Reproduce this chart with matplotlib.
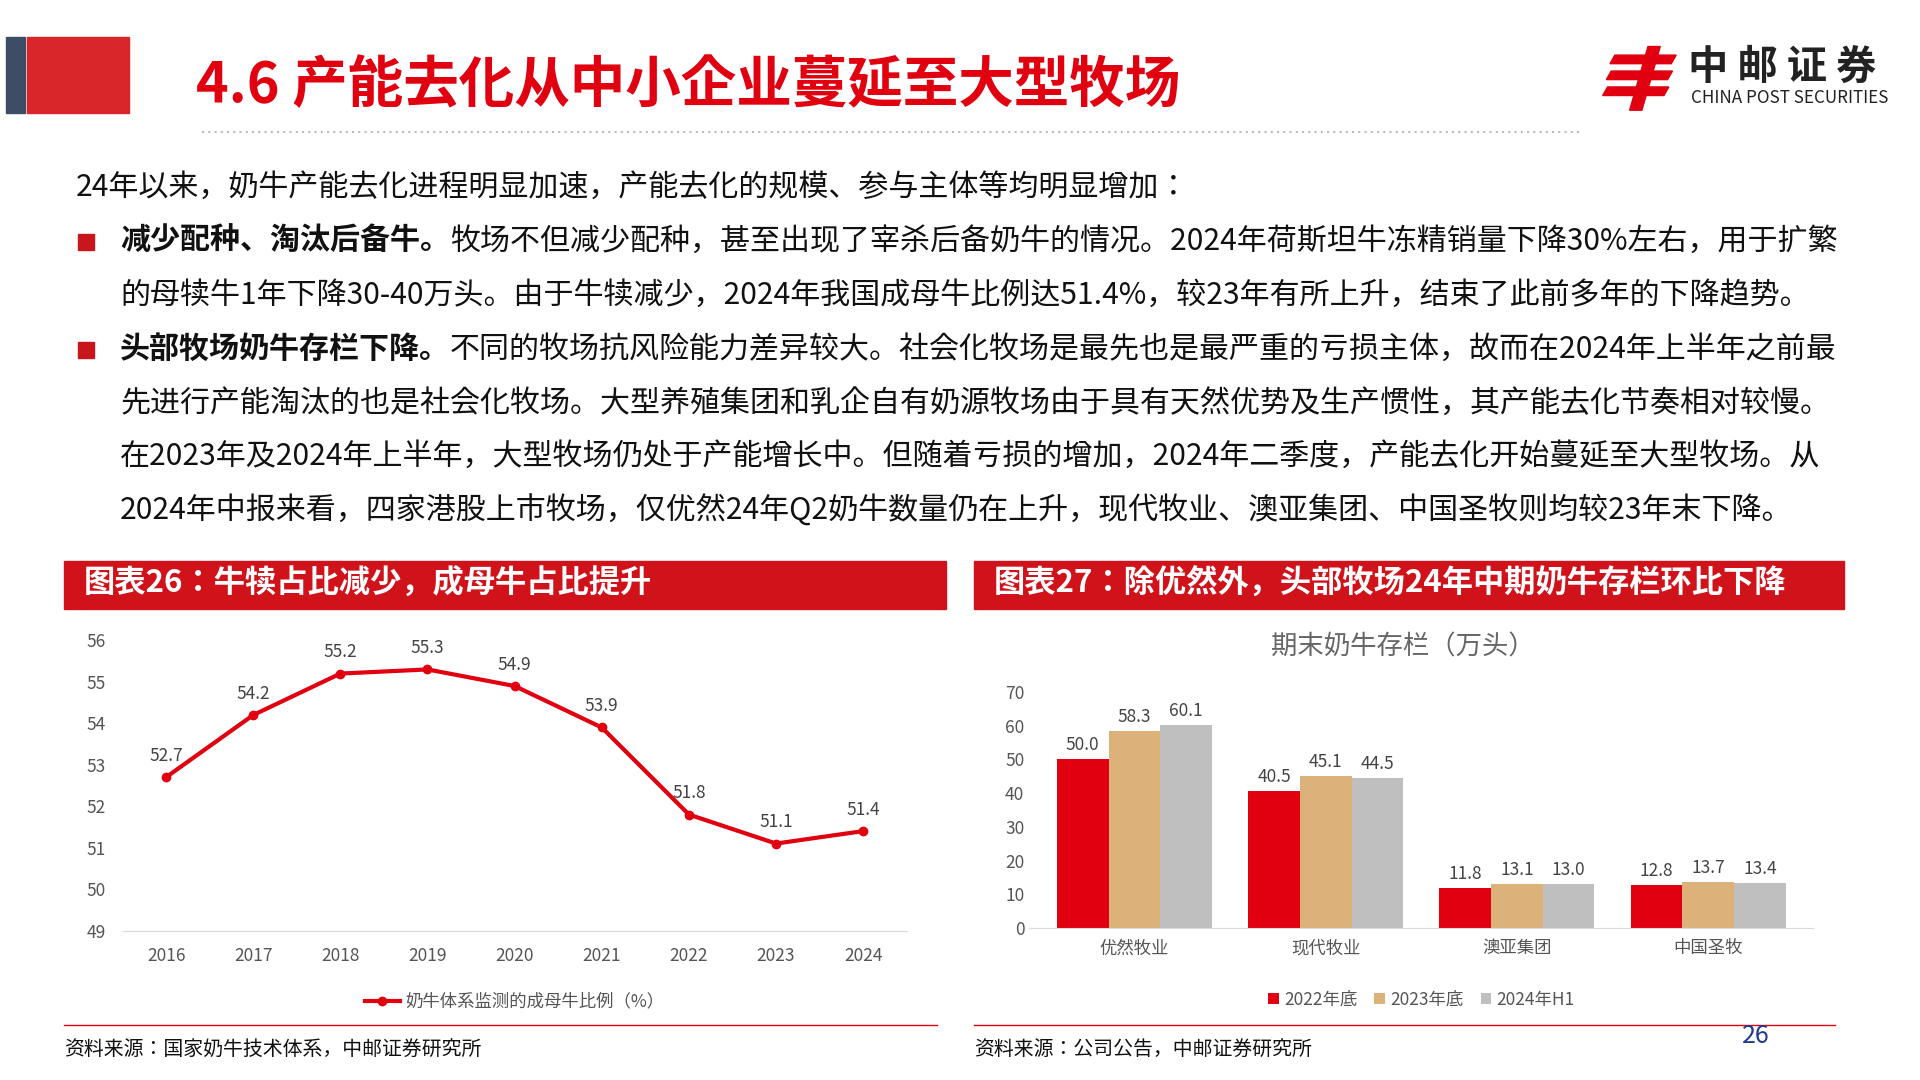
import matplotlib
matplotlib.use("Agg")
import matplotlib.pyplot as plt
from matplotlib.patches import Rectangle, Polygon
from matplotlib.lines import Line2D
from matplotlib import font_manager as fm

names = {f.name for f in fm.fontManager.ttflist}
cjk = [n for n in ['Noto Sans CJK SC','Noto Sans CJK JP','Noto Sans CJK TC','Noto Sans CJK KR'] if n in names]
plt.rcParams['font.family'] = cjk + ['DejaVu Sans']

years = ['2016','2017','2018','2019','2020','2021','2022','2023','2024']
ratio = [52.7,54.2,55.2,55.3,54.9,53.9,51.8,51.1,51.4]
companies = ['优然牧业','现代牧业','澳亚集团','中国圣牧']
s2022 = [50.0,40.5,11.8,12.8]
s2023 = [58.3,45.1,13.1,13.7]
s2024 = [60.1,44.5,13.0,13.4]
series_names = ['2022年底','2023年底','2024年H1']

W, H = 1567, 882
fig = plt.figure(figsize=(19.2,10.8), dpi=100)
def fx(x): return x/W
def fy(y): return 1-y/H
RED = '#E0000F'

fig.patches.append(Rectangle((fx(5),fy(92)),fx(15),(62)/H,color='#3C4E66',transform=fig.transFigure))
fig.patches.append(Rectangle((fx(22),fy(92)),fx(83),(62)/H,color='#D9262B',transform=fig.transFigure))
fig.text(fx(160),fy(70),'4.6 产能去化从中小企业蔓延至大型牧场',color=RED,fontsize=40,fontweight='bold',va='center')
fig.add_artist(Line2D([fx(165),fx(1290)],[fy(108),fy(108)],color='#BBBBBB',lw=1.5,ls=(0,(1,2)),transform=fig.transFigure))
for i,(yy) in enumerate([45,58,71]):
    fig.patches.append(Polygon([(fx(1318+i*-3),fy(yy)),(fx(1368-i*3),fy(yy)),(fx(1364-i*3),fy(yy+7)),(fx(1314-i*3),fy(yy+7))],closed=True,color=RED,transform=fig.transFigure))
fig.patches.append(Polygon([(fx(1345),fy(38)),(fx(1355),fy(38)),(fx(1340),fy(90)),(fx(1330),fy(90))],closed=True,color=RED,transform=fig.transFigure))
fig.text(fx(1378),fy(55),'中 邮 证 券',fontsize=29,fontweight='bold',va='center',color='#222222')
fig.text(fx(1380),fy(80),'CHINA POST SECURITIES',fontsize=12.3,va='center',color='#222222')

fig.canvas.draw()
r = fig.canvas.get_renderer()
FS = 21.6
def line(x,y,parts):
    cx = fx(x)
    for txt,b in parts:
        t = fig.text(cx,fy(y),txt,fontsize=FS,fontweight='bold' if b else 'normal',va='center',color='#111111')
        bb = t.get_window_extent(r)
        cx += bb.width/fig.bbox.width

line(62,153,[('24年以来，奶牛产能去化进程明显加速，产能去化的规模、参与主体等均明显增加：',False)])
for yy in (197,285):
    fig.patches.append(Rectangle((fx(64),fy(yy+7)),fx(13),13/H,color='#C8161D',transform=fig.transFigure))
line(98,197,[('减少配种、淘汰后备牛。',True),('牧场不但减少配种，甚至出现了宰杀后备奶牛的情况。2024年荷斯坦牛冻精销量下降30%左右，用于扩繁',False)])
line(98,241,[('的母犊牛1年下降30-40万头。由于牛犊减少，2024年我国成母牛比例达51.4%，较23年有所上升，结束了此前多年的下降趋势。',False)])
line(98,285,[('头部牧场奶牛存栏下降。',True),('不同的牧场抗风险能力差异较大。社会化牧场是最先也是最严重的亏损主体，故而在2024年上半年之前最',False)])
line(98,329,[('先进行产能淘汰的也是社会化牧场。大型养殖集团和乳企自有奶源牧场由于具有天然优势及生产惯性，其产能去化节奏相对较慢。',False)])
line(98,373,[('在2023年及2024年上半年，大型牧场仍处于产能增长中。但随着亏损的增加，2024年二季度，产能去化开始蔓延至大型牧场。从',False)])
line(98,417,[('2024年中报来看，四家港股上市牧场，仅优然24年Q2奶牛数量仍在上升，现代牧业、澳亚集团、中国圣牧则均较23年末下降。',False)])

for x0,x1,txt in [(52,772,'图表26：牛犊占比减少，成母牛占比提升'),(795,1505,'图表27：除优然外，头部牧场24年中期奶牛存栏环比下降')]:
    fig.patches.append(Rectangle((fx(x0),fy(497)),fx(x1-x0),39/H,color='#D0121B',transform=fig.transFigure))
    fig.text(fx(x0+16),fy(477),txt,color='white',fontsize=22.5,fontweight='bold',va='center')

LS = 12.5
ax = fig.add_axes([fx(100),fy(760),fx(640),(760-523)/H])
xs = range(len(years))
ax.plot(xs,ratio,color=RED,lw=3,marker='o',ms=6)
for i,v in enumerate(ratio):
    ax.text(i,v+0.3,f'{v}',ha='center',va='bottom',fontsize=LS,color='#444444')
ax.set_ylim(49,56); ax.set_xlim(-0.5,8.5)
ax.set_xticks(list(xs)); ax.set_xticklabels(years)
ax.set_yticks(range(49,57))
ax.tick_params(length=0,labelsize=LS,colors='#555555')
ax.tick_params(axis='y',pad=12)
ax.tick_params(axis='x',pad=12)
for s in ax.spines.values(): s.set_visible(False)
ax.spines['bottom'].set_visible(True); ax.spines['bottom'].set_color('#D9D9D9')
ax.legend(['奶牛体系监测的成母牛比例（%）'],loc='upper center',bbox_to_anchor=(0.5,-0.16),frameon=False,fontsize=LS,labelcolor='#555555',handlelength=2.0,handletextpad=0.3)

ax2 = fig.add_axes([fx(840),fy(758),fx(640),(758-565)/H])
cols = ['#E0000F','#DDB27A','#BFBFBF']
w = 0.27
for k,(vals,c,n) in enumerate(zip([s2022,s2023,s2024],cols,series_names)):
    pos = [i+(k-1)*w for i in range(4)]
    ax2.bar(pos,vals,w,color=c,label=n)
    for p,v in zip(pos,vals):
        ax2.text(p,v+1.5,f'{v:.1f}',ha='center',va='bottom',fontsize=LS,color='#444444')
ax2.set_ylim(0,70); ax2.set_xlim(-0.55,3.55)
ax2.set_yticks(range(0,71,10))
ax2.set_xticks(range(4)); ax2.set_xticklabels(companies)
ax2.tick_params(length=0,labelsize=LS,colors='#555555')
ax2.tick_params(axis='x',pad=8)
for s in ax2.spines.values(): s.set_visible(False)
ax2.spines['bottom'].set_visible(True); ax2.spines['bottom'].set_color('#D9D9D9')
ax2.legend(loc='upper center',bbox_to_anchor=(0.5,-0.2),ncol=3,frameon=False,fontsize=LS,labelcolor='#555555',handlelength=0.6,handleheight=0.6,columnspacing=1,handletextpad=0.3)
fig.text(fx(1145),fy(528),'期末奶牛存栏（万头）',ha='center',va='center',fontsize=19,color='#666666')

for x0,x1 in [(52,765),(795,1498)]:
    fig.add_artist(Line2D([fx(x0),fx(x1)],[fy(837),fy(837)],color=RED,lw=1,transform=fig.transFigure))
fig.text(fx(52),fy(857),'资料来源：国家奶牛技术体系，中邮证券研究所',fontsize=14.3,va='center',color='#111111')
fig.text(fx(795),fy(857),'资料来源：公司公告，中邮证券研究所',fontsize=14.3,va='center',color='#111111')
fig.text(fx(1433),fy(846),'26',fontsize=18,ha='center',va='center',color='#1F3A8A')

fig.savefig('out.png',dpi=100)
